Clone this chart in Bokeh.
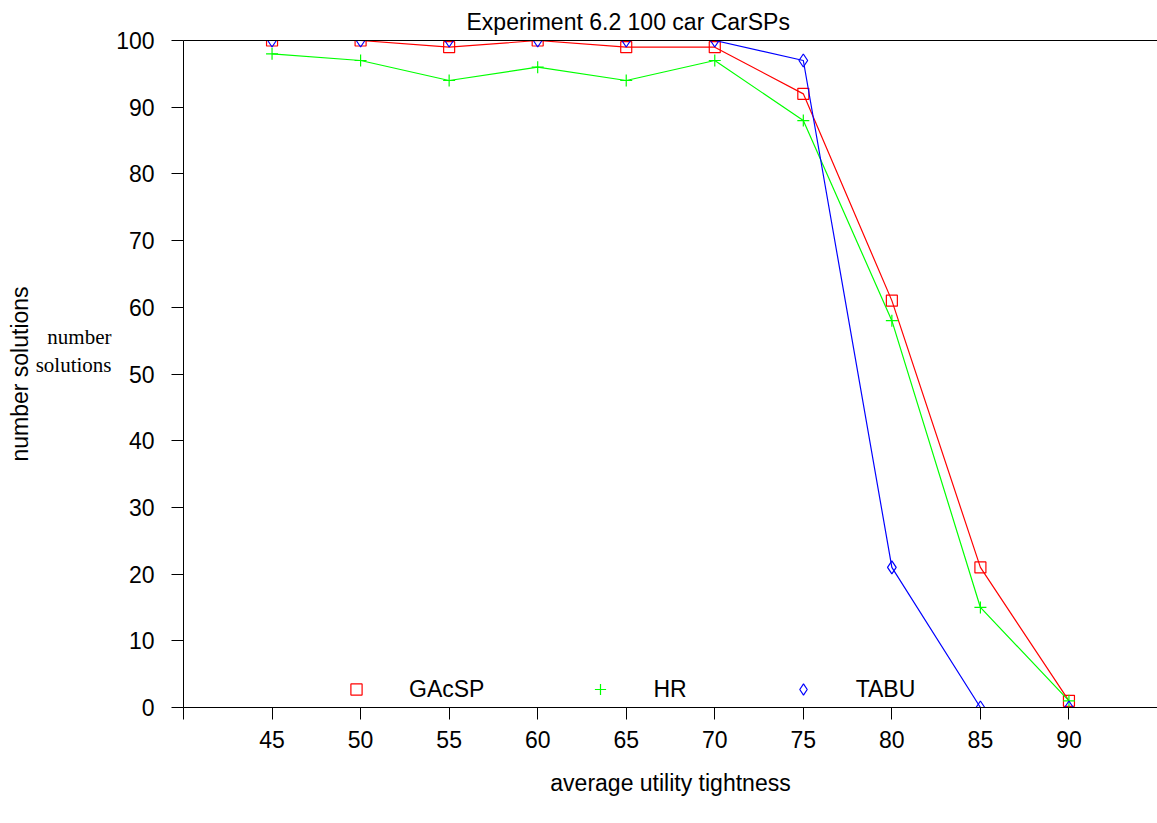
from bokeh.plotting import figure
from bokeh.models import FixedTicker, LinearAxis, Legend, LegendItem, Range1d, Title
from bokeh.embed import file_html
from bokeh.resources import INLINE

tightness = [45, 50, 55, 60, 65, 70, 75, 80, 85, 90]
gacsp = [100, 100, 99, 100, 99, 99, 92, 61, 21, 1]
hr = [98, 97, 94, 96, 94, 97, 88, 58, 15, 1]
tabu = [100, 100, 100, 100, 100, 100, 97, 21, 0, 0]
x_ticks = [40, 45, 50, 55, 60, 65, 70, 75, 80, 85, 90]
y_ticks = [0, 10, 20, 30, 40, 50, 60, 70, 80, 90, 100]
# stray serif caption left of the y axis, two lines
caption_lines = ["number", "solutions"]
caption_at = [55.5, 51.3]

FONT = "Liberation Sans"
FS = "23px"

p = figure(width=1157, height=823, output_backend="svg", toolbar_location=None,
           x_range=Range1d(40, 95), y_range=Range1d(0, 100),
           min_border_left=183, min_border_right=0, min_border_top=40,
           min_border_bottom=116, outline_line_color=None)
p.xgrid.visible = False
p.ygrid.visible = False

p.title.text = "Experiment 6.2 100 car CarSPs"
p.title.text_font = FONT
p.title.text_font_size = FS
p.title.text_font_style = "normal"
p.title.text_color = "black"
p.title.align = "left"
p.title.offset = 283
p.title.standoff = 11

for ax, ticks in ((p.xaxis[0], x_ticks), (p.yaxis[0], y_ticks)):
    ax.ticker = FixedTicker(ticks=ticks)
    ax.minor_tick_line_color = None
    ax.major_tick_in = 0
    ax.major_tick_out = 12
    ax.axis_line_color = "black"
    ax.major_tick_line_color = "black"
    ax.major_label_text_font = FONT
    ax.major_label_text_font_size = FS
    ax.major_label_text_color = "black"
    ax.axis_label_text_font = FONT
    ax.axis_label_text_font_size = FS
    ax.axis_label_text_font_style = "normal"
    ax.axis_label_text_color = "black"

p.xaxis.major_label_overrides = {40: ""}
p.xaxis.major_label_standoff = 11
p.xaxis.axis_label = "average utility tightness"
p.xaxis.axis_label_standoff = 19
p.yaxis.major_label_standoff = 17

top = LinearAxis(ticker=FixedTicker(ticks=[]), major_label_text_font_size="0px",
                 axis_line_color="black", major_tick_out=0, major_tick_in=0,
                 minor_tick_line_color=None)
p.add_layout(top, "above")

# serif caption, carried by a bare extra axis on the left
cap = LinearAxis(ticker=FixedTicker(ticks=caption_at),
                 major_label_overrides={v: t for v, t in zip(caption_at, caption_lines)},
                 axis_line_color=None, major_tick_line_color=None,
                 minor_tick_line_color=None, major_tick_out=0, major_tick_in=0,
                 major_label_standoff=2, major_label_text_font="Liberation Serif",
                 major_label_text_font_size="21px", major_label_text_color="black")
p.add_layout(cap, "left")

ylab = Title(text="number solutions", align="center", standoff=0,
             text_font=FONT, text_font_size=FS, text_font_style="normal",
             text_color="black")
p.add_layout(ylab, "left")

p.line(tightness, gacsp, line_color="#ff0000", line_width=1.2)
r1 = p.scatter(tightness, gacsp, marker="square", size=11, line_color="#ff0000",
               fill_color=None, line_width=1.2)
p.line(tightness, hr, line_color="#00ff00", line_width=1.2)
r2 = p.scatter(tightness, hr, marker="cross", size=12, line_color="#00ff00",
               line_width=1.2)
p.line(tightness, tabu, line_color="#0000ff", line_width=1.2)
r3 = p.scatter(tightness, tabu, marker="diamond", size=13,
               line_color="#0000ff", fill_color=None, line_width=1.2)

legend = Legend(items=[LegendItem(label="GAcSP", renderers=[r1]),
                       LegendItem(label="HR", renderers=[r2]),
                       LegendItem(label="TABU", renderers=[r3])],
                location=(159, 4), orientation="horizontal",
                border_line_color=None, background_fill_alpha=0, padding=0,
                margin=0, spacing=102, glyph_width=28, glyph_height=28,
                label_standoff=39, label_text_font=FONT,
                label_text_font_size=FS, label_text_color="black")
p.add_layout(legend)

open("out.html", "w").write(file_html(p, INLINE))
